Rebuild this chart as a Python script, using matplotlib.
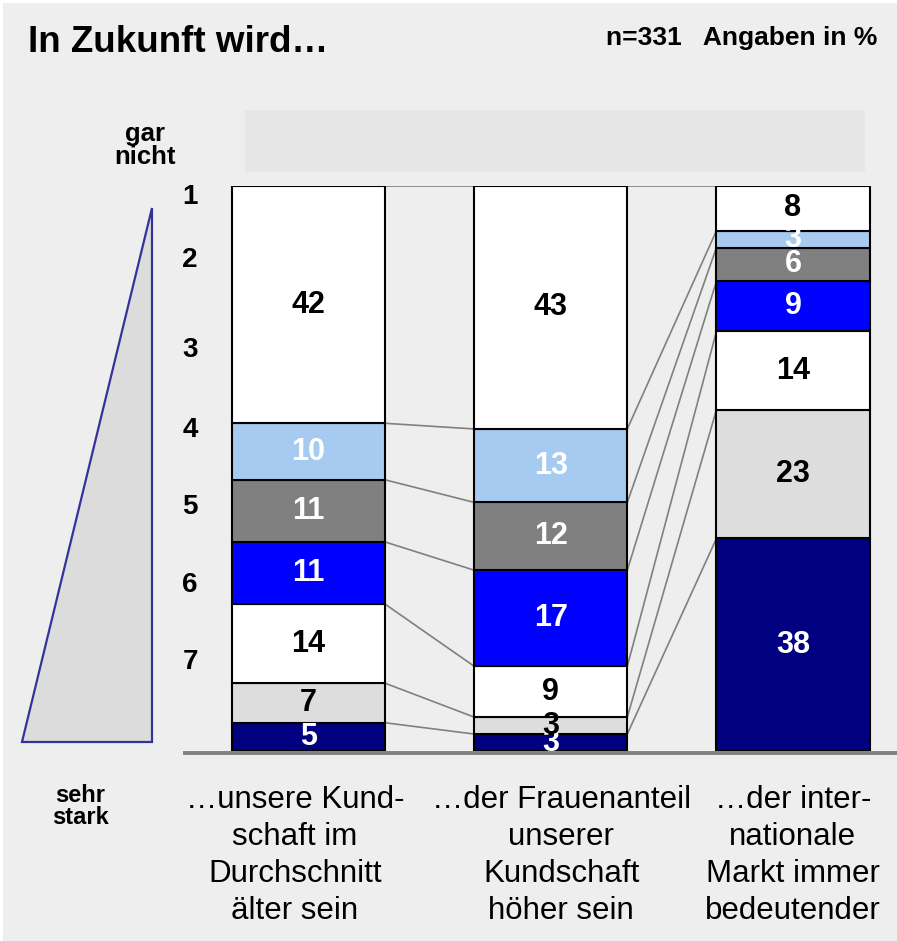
import matplotlib
matplotlib.use("Agg")
import matplotlib.pyplot as plt
from matplotlib.patches import Polygon, Rectangle
from matplotlib.transforms import blended_transform_factory

plt.rcParams["font.family"] = ["Liberation Sans", "DejaVu Sans"]

# data, bottom ("sehr stark") to top ("gar nicht")
categories = [
    "…unsere Kund-\nschaft im\nDurchschnitt\nälter sein",
    "…der Frauenanteil\nunserer\nKundschaft\nhöher sein",
    "…der inter-\nnationale\nMarkt immer\nbedeutender",
]
kundschaft_aelter = [5, 7, 14, 11, 11, 10, 42]
frauenanteil_hoeher = [3, 3, 9, 17, 12, 13, 43]
markt_international = [38, 23, 14, 9, 6, 3, 8]
series = [kundschaft_aelter, frauenanteil_hoeher, markt_international]
scale_labels = ["1", "2", "3", "4", "5", "6", "7"]

seg_colors = ["#000080", "#dddddd", "#ffffff", "#0000ff", "#808080", "#a6caf0", "#ffffff"]
txt_colors = ["white", "black", "black", "white", "white", "white", "black"]

W, H = 897, 941
fig = plt.figure(figsize=(W / 100, H / 100), dpi=100)
fig.patch.set_facecolor("white")


def fx(px):
    return px / W


def fy(py):
    return 1 - py / H


fig.patches.append(Rectangle((fx(3), 0), 1, fy(3), transform=fig.transFigure,
                             facecolor="#eeeeee", edgecolor="none", zorder=-2))
fig.patches.append(Rectangle((fx(245), fy(172)), fx(865) - fx(245), fy(110) - fy(172),
                             transform=fig.transFigure, facecolor="#e6e6e6",
                             edgecolor="none", zorder=-1))
fig.patches.append(Polygon([(fx(22), fy(742)), (fx(152), fy(742)), (fx(152), fy(208))],
                           closed=True, transform=fig.transFigure, facecolor="#dcdcdc",
                           edgecolor="#333399", linewidth=1.6, zorder=-1))

ax = fig.add_axes([fx(185), fy(751), fx(897) - fx(185), fy(186) - fy(751)])
ax.set_zorder(2)
ax.patch.set_alpha(0)
width = 0.632
ax.set_xlim((185 - 308.5) / 242.25, (897 - 308.5) / 242.25)
ax.set_ylim(0, 100)

bounds = []
for i, vals in enumerate(series):
    total = sum(vals)
    bottom = 0.0
    edges = []
    for v, c, tc in zip(vals, seg_colors, txt_colors):
        h = v / total * 100
        ax.bar(i, h, width=width, bottom=bottom, color=c, edgecolor="black",
               linewidth=1.5, zorder=3)
        ax.text(i, bottom + h / 2, str(v), ha="center", va="center", fontsize=22,
                fontweight="bold", color=tc, zorder=5)
        bottom += h
        edges.append(bottom)
    bounds.append(edges)

for i in range(len(series) - 1):
    for y0, y1 in zip(bounds[i], bounds[i + 1]):
        ax.plot([i + width / 2, i + 1 - width / 2], [y0, y1], color="#808080",
                linewidth=1.2, zorder=2)

for s in ["top", "left", "right"]:
    ax.spines[s].set_visible(False)
ax.spines["bottom"].set_color("#808080")
ax.spines["bottom"].set_linewidth(2.8)
ax.spines["bottom"].set_position(("outward", 1.5))
ax.set_xticks([])
ax.set_yticks([])

# scale 1..7 on the left
scale_px = [197, 260, 350, 430, 507, 585, 662]
for lab, py in zip(scale_labels, scale_px):
    fig.text(fx(190), fy(py), lab, ha="center", va="center", fontsize=20, fontweight="bold")

fig.text(fx(145), fy(134), "gar", ha="center", va="center", fontsize=18.5, fontweight="bold")
fig.text(fx(145), fy(157), "nicht", ha="center", va="center", fontsize=18.5, fontweight="bold")
fig.text(fx(80), fy(795), "sehr", ha="center", va="center", fontsize=17, fontweight="bold")
fig.text(fx(80), fy(818), "stark", ha="center", va="center", fontsize=17, fontweight="bold")

label_tr = blended_transform_factory(ax.transData, fig.transFigure)
label_shift = [-0.056, 0.043, 0.0]
for i, (cat, dx) in enumerate(zip(categories, label_shift)):
    ax.text(i + dx, fy(785), cat, transform=label_tr, ha="center", va="top",
            fontsize=22.5, linespacing=1.3, clip_on=False)

fig.text(fx(28), fy(42), "In Zukunft wird…", ha="left", va="center", fontsize=26.5,
         fontweight="bold")
fig.text(fx(877), fy(38), "n=331   Angaben in %", ha="right", va="center", fontsize=19,
         fontweight="bold")

fig.savefig("out.png", dpi=100)
